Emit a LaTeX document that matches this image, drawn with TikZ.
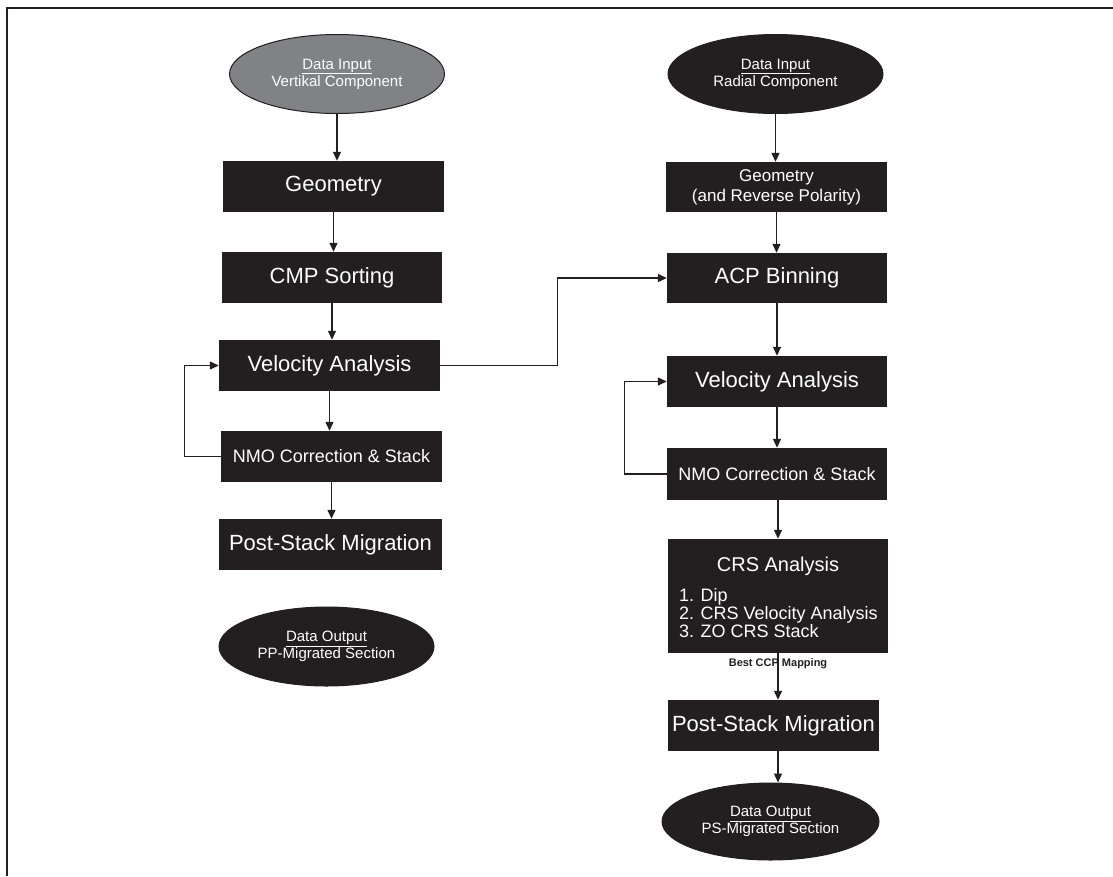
\documentclass[tikz,border=0pt]{standalone}
\usepackage{fontspec}
\setmainfont{Liberation Sans}
\usetikzlibrary{shapes.geometric,arrows.meta,calc}

\definecolor{procblack}{HTML}{231F20}
\definecolor{ingray}{HTML}{808285}

\begin{document}
\begin{tikzpicture}[x=1pt,y=-1pt,
    proc/.style={rectangle,fill=procblack,text=white,inner sep=0pt,
      minimum width=221pt,minimum height=51pt,align=center,font=\fontsize{22}{24}\selectfont},
    data/.style={ellipse,draw=procblack,line width=1pt,fill=procblack,text=white,inner sep=0pt,
      minimum width=215pt,minimum height=79pt,align=center,font=\fontsize{15}{17}\selectfont},
    flow/.style={line width=1.3pt,procblack,-{Triangle[length=9pt,width=8pt]}}]

  \useasboundingbox (0,0) rectangle (1113,876);
  % Frame
  \draw[line width=2.5pt,procblack] (7,876) -- (7,8) -- (1113,8);

  % Vertical component
  \node[data,fill=ingray] (in1) at (337,74) {\underline{Data Input}\\Vertikal Component};
  \node[proc] (geo1) at (333.5,186.5) {Geometry};
  \node[proc,minimum width=220pt] (cmp) at (332,277.5) {CMP Sorting};
  \node[proc] (vel1) at (329.5,365.5) {Velocity Analysis};
  \node[proc,font=\fontsize{18}{20}\selectfont] (nmo1) at (331.5,456.5) {NMO Correction \& Stack};
  \node[proc,minimum width=223pt] (psm1) at (330.5,544.5) {Post-Stack Migration};
  \node[data] (out1) at (326.5,646.5) {\underline{Data Output}\\PP-Migrated Section};

  % Radial component
  \node[data] (in2) at (775.5,74) {\underline{Data Input}\\Radial Component};
  \node[proc,minimum height=50pt,font=\fontsize{17}{20}\selectfont] (geo2) at (776.5,187) {Geometry\\(and Reverse Polarity)};
  \node[proc,minimum width=220pt,minimum height=50pt] (acp) at (777,278) {ACP Binning};
  \node[proc,minimum width=220pt] (vel2) at (777,381.5) {Velocity Analysis};
  \node[proc,minimum width=220pt,minimum height=52pt,font=\fontsize{18}{20}\selectfont] (nmo2) at (777,474) {NMO Correction \& Stack};
  \node[proc,minimum width=220pt,minimum height=114pt] (crs) at (778,596) {};
  \node[anchor=base,inner sep=0pt,text=white,font=\fontsize{20}{22}\selectfont] (crstitle) at ([yshift=-33pt]crs.north) {CRS Analysis};
  \node[anchor=west,inner sep=0pt,text=white,align=left,font=\fontsize{18}{18}\selectfont] (crslist) at ([xshift=11pt,yshift=-74pt]crs.north west) {1. Dip\\2. CRS Velocity Analysis\\3. ZO CRS Stack};
  \node[text=procblack,font=\bfseries\fontsize{11}{12}\selectfont] (ccp) at ([yshift=-10pt]crs.south) {Best CCP Mapping};
  \node[proc,minimum width=211pt] (psm2) at (773.5,725.5) {Post-Stack Migration};
  \node[data,minimum width=217pt,minimum height=77pt] (out2) at (770.5,821.5) {\underline{Data Output}\\PS-Migrated Section};

  % Connectors, left
  \draw[flow] (in1) -- (in1 |- geo1.north);
  \draw[flow] (geo1) -- (geo1 |- cmp.north);
  \draw[flow] (cmp) -- (cmp |- vel1.north);
  \draw[flow] (vel1) -- (vel1 |- nmo1.north);
  \draw[flow] (nmo1) -- (nmo1 |- psm1.north);
  \draw[flow] (nmo1.west) -- ++(-36,0) |- (vel1.west);
  \draw[flow] (vel1.east) -- ++(117,0) |- (acp.west);

  % Connectors, right
  \draw[flow] (in2) -- (in2 |- geo2.north);
  \draw[flow] (geo2) -- (geo2 |- acp.north);
  \draw[flow] (acp) -- (acp |- vel2.north);
  \draw[flow] (vel2) -- (vel2 |- nmo2.north);
  \draw[flow] (nmo2.south -| crs) -- (crs.north);
  \draw[flow] (nmo2.west) -- ++(-42,0) |- (vel2.west);
  \draw[flow] (crs) -- (crs |- psm2.north);
  \draw[flow] (psm2.south -| crs) -- (crs |- out2.north);

\end{tikzpicture}
\end{document}
